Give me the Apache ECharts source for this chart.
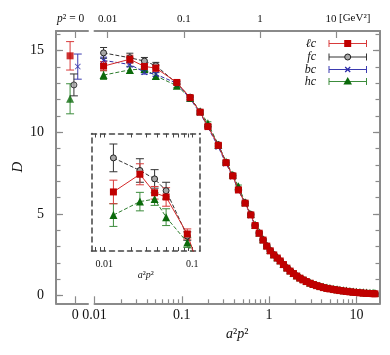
<!DOCTYPE html>
<html>
<head>
<meta charset="utf-8">
<script src="https://cdn.jsdelivr.net/npm/echarts@6/dist/echarts.min.js"></script>
<style>
  html, body { margin: 0; padding: 0; background: #fff; }
  #chart { width: 390px; height: 355px; }
</style>
</head>
<body>
<div id="chart"></div>
<script>
// a²p² of each lattice momentum
const momenta = [0.0127, 0.0254, 0.0373, 0.0504, 0.0877, 0.1245, 0.162, 0.199, 0.262, 0.321,
  0.384, 0.445, 0.531, 0.617, 0.691, 0.77, 0.853, 0.94, 1.03, 1.13,
  1.24, 1.34, 1.46, 1.6, 1.74, 1.9, 2.07, 2.25, 2.45, 2.67,
  2.94, 3.2, 3.5, 3.82, 4.2, 4.6, 4.97, 5.5, 6.0, 6.47,
  7.1, 7.7, 8.43, 9.2, 10.0, 10.97, 12.0, 13.1, 14.3, 15.5, 16.3];

// D for each ensemble
const dLc = [14.05, 14.47, 14.03, 13.93, 13.05, 12.12, 11.23, 10.35, 9.2, 8.14,
  7.33, 6.47, 5.66, 4.94, 4.29, 3.82, 3.4, 3.03, 2.74, 2.49,
  2.3, 2.12, 1.9, 1.68, 1.5, 1.35, 1.2, 1.07, 0.96, 0.86,
  0.76, 0.68, 0.61, 0.55, 0.49, 0.44, 0.41, 0.37, 0.34, 0.31,
  0.28, 0.26, 0.23, 0.21, 0.19, 0.17, 0.15, 0.14, 0.13, 0.12, 0.11];
const dFc = [14.86, 14.56, 14.36, 14.08, 13.0, 12.15, 11.25, 10.38, 9.24, 8.16,
  7.36, 6.5, 5.69, 4.97, 4.31, 3.84, 3.42, 3.05, 2.76, 2.51,
  2.31, 2.13, 1.91, 1.7, 1.52, 1.36, 1.21, 1.08, 0.97, 0.87,
  0.77, 0.69, 0.62, 0.56, 0.5, 0.45, 0.42, 0.38, 0.35, 0.32,
  0.29, 0.27, 0.24, 0.22, 0.2, 0.18, 0.16, 0.15, 0.14, 0.13, 0.12];
const dBc = [14.4, 14.15, 13.68, 13.55, 13.0, 12.05, 11.18, 10.3, 9.1, 8.08,
  7.28, 6.44, 5.62, 4.9, 4.26, 3.79, 3.37, 3.01, 2.72, 2.47,
  2.28, 2.1, 1.88, 1.66, 1.48, 1.33, 1.19, 1.06, 0.95, 0.85,
  0.75, 0.67, 0.6, 0.54, 0.48, 0.43, 0.4, 0.36, 0.33, 0.3,
  0.27, 0.25, 0.22, 0.2, 0.18, 0.16, 0.14, 0.13, 0.12, 0.11, 0.1];
const dHc = [13.5, 13.82, 13.88, 13.45, 12.85, 12.1, 11.28, 10.55, 9.24, 8.2,
  7.4, 6.7, 5.72, 5.0, 4.34, 3.87, 3.45, 3.08, 2.79, 2.54,
  2.35, 2.17, 1.95, 1.73, 1.55, 1.4, 1.25, 1.12, 1.01, 0.91,
  0.81, 0.73, 0.66, 0.6, 0.54, 0.49, 0.46, 0.42, 0.39, 0.36,
  0.33, 0.31, 0.28, 0.26, 0.24, 0.22, 0.2, 0.19, 0.18, 0.17, 0.16];

// statistical errors
const eLc = [0.28, 0.25, 0.15, 0.22, 0.12, 0.1, 0.09, 0.09, 0.08, 0.08,
  0.07, 0.07, 0.06, 0.06, 0.06, 0.05, 0.05, 0.05, 0.05, 0.05,
  0.05, 0.05, 0.05, 0.05, 0.05, 0.05, 0.05, 0.05, 0.05, 0.05,
  0.05, 0.05, 0.05, 0.05, 0.05, 0.05, 0.05, 0.05, 0.05, 0.05,
  0.05, 0.05, 0.05, 0.05, 0.05, 0.05, 0.05, 0.05, 0.05, 0.05, 0.05];
const eFc = [0.33, 0.28, 0.22, 0.2, 0.1, 0.1, 0.09, 0.09, 0.08, 0.08,
  0.07, 0.07, 0.06, 0.06, 0.06, 0.05, 0.05, 0.05, 0.05, 0.05,
  0.05, 0.05, 0.05, 0.05, 0.05, 0.05, 0.05, 0.05, 0.05, 0.05,
  0.05, 0.05, 0.05, 0.05, 0.05, 0.05, 0.05, 0.05, 0.05, 0.05,
  0.05, 0.05, 0.05, 0.05, 0.05, 0.05, 0.05, 0.05, 0.05, 0.05, 0.05];
const eBc = [0.2, 0.15, 0.12, 0.12, 0.08, 0.08, 0.07, 0.07, 0.07, 0.06,
  0.06, 0.06, 0.05, 0.05, 0.05, 0.04, 0.04, 0.04, 0.04, 0.04,
  0.04, 0.04, 0.04, 0.04, 0.04, 0.04, 0.04, 0.04, 0.04, 0.04,
  0.04, 0.04, 0.04, 0.04, 0.04, 0.04, 0.04, 0.04, 0.04, 0.04,
  0.04, 0.04, 0.04, 0.04, 0.04, 0.04, 0.04, 0.04, 0.04, 0.04, 0.04];
const eHc = [0.27, 0.22, 0.15, 0.2, 0.12, 0.1, 0.09, 0.09, 0.08, 0.08,
  0.07, 0.07, 0.06, 0.06, 0.06, 0.05, 0.05, 0.05, 0.05, 0.05,
  0.05, 0.05, 0.05, 0.05, 0.05, 0.05, 0.05, 0.05, 0.05, 0.05,
  0.05, 0.05, 0.05, 0.05, 0.05, 0.05, 0.05, 0.05, 0.05, 0.05,
  0.05, 0.05, 0.05, 0.05, 0.05, 0.05, 0.05, 0.05, 0.05, 0.05, 0.05];

// p² = 0 panel (order: ℓc, fc, bc, hc); offset = small horizontal shift in the panel
const names = ['ℓc', 'fc', 'bc', 'hc'];
const zeroOffset = [-0.4, -0.1, 0.2, -0.4];
const zeroD = [14.68, 12.9, 14.02, 12.05];
const zeroErr = [0.87, 0.67, 0.77, 0.92];

// ticks
const yMajor = [0, 5, 10, 15];
const yMinor = [0, 1, 2, 3, 4, 5, 6, 7, 8, 9, 10, 11, 12, 13, 14, 15, 16];
const xMajor = [0.01, 0.1, 1, 10];
const xMinor = [0.02, 0.03, 0.04, 0.05, 0.06, 0.07, 0.08, 0.09,
  0.2, 0.3, 0.4, 0.5, 0.6, 0.7, 0.8, 0.9, 2, 3, 4, 5, 6, 7, 8, 9];
const insetTicks = [0.008, 0.009, 0.01, 0.02, 0.03, 0.04, 0.05, 0.06, 0.07, 0.08, 0.09, 0.1];
const insetLabels = [0.01, 0.1];

const serif = "'Liberation Serif', 'DejaVu Serif', serif";
const gray = '#8a8a8a';
const xSym = 'path://M0,1L1,0L5,4L9,0L10,1L6,5L10,9L9,10L5,6L1,10L0,9L4,5Z';

// look of each ensemble
const looks = [
  { values: dLc, errs: eLc, bar: '#d83a3a', line: { color: '#d42a2a', type: 'solid' },
    symbol: 'rect', size: 7, item: { color: '#c00000' } },
  { values: dFc, errs: eFc, bar: '#333', line: { color: '#333', type: 'dashed' },
    symbol: 'circle', size: 6, item: { color: '#a8a8a8', borderColor: '#222', borderWidth: 1 } },
  { values: dBc, errs: eBc, bar: '#3b3bb0', line: { color: '#3030a8', type: 'dashed' },
    symbol: xSym, size: 6, item: { color: '#2a2aa8' } },
  { values: dHc, errs: eHc, bar: '#3c8c3c', line: { color: '#2e7d2e', type: 'dashed' },
    symbol: 'triangle', size: 8, item: { color: '#0b6a0b' } }
];

function errorBars(color, cap) {
  return function (params, api) {
    const x = api.value(0), y = api.value(1), e = api.value(2);
    const lo = api.coord([x, y - e]);
    const hi = api.coord([x, y + e]);
    const style = { stroke: color, lineWidth: 1 };
    return {
      type: 'group',
      children: [
        { type: 'line', shape: { x1: lo[0], y1: lo[1], x2: hi[0], y2: hi[1] }, style },
        { type: 'line', shape: { x1: lo[0] - cap, y1: lo[1], x2: lo[0] + cap, y2: lo[1] }, style },
        { type: 'line', shape: { x1: hi[0] - cap, y1: hi[1], x2: hi[0] + cap, y2: hi[1] }, style }
      ]
    };
  };
}

const labelStyle = { color: '#111', fontFamily: serif };
const tickStyle = { color: gray, width: 1.2 };

const series = [];
// draw order: hc, bc, fc, ℓc (ℓc on top)
[3, 2, 1, 0].forEach(i => {
  const lk = looks[i];
  // p² = 0 point
  series.push({
    type: 'custom', xAxisIndex: 0, yAxisIndex: 0, silent: true,
    renderItem: errorBars(lk.bar, 4),
    data: [[zeroOffset[i], zeroD[i], zeroErr[i]]]
  });
  series.push({
    type: 'scatter', xAxisIndex: 0, yAxisIndex: 0, silent: true,
    symbol: lk.symbol, symbolSize: lk.size, itemStyle: lk.item,
    data: [[zeroOffset[i], zeroD[i]]]
  });
  // main panel
  series.push({
    type: 'custom', xAxisIndex: 2, yAxisIndex: 2, silent: true, clip: true,
    renderItem: errorBars(lk.bar, 3.5),
    data: momenta.map((m, k) => [m, lk.values[k], lk.errs[k]])
  });
  series.push({
    type: 'line', xAxisIndex: 2, yAxisIndex: 2, silent: true,
    symbol: lk.symbol, symbolSize: lk.size, showAllSymbol: true,
    itemStyle: lk.item, lineStyle: { width: 1, color: lk.line.color, type: lk.line.type },
    data: momenta.map((m, k) => [m, lk.values[k]])
  });
  // inset (no bc there)
  if (i !== 2) {
    series.push({
      type: 'custom', xAxisIndex: 5, yAxisIndex: 4, silent: true, clip: true,
      renderItem: errorBars(lk.bar, 4),
      data: momenta.map((m, k) => [m, lk.values[k], lk.errs[k]])
    });
    series.push({
      type: 'line', xAxisIndex: 5, yAxisIndex: 4, silent: true, clip: true,
      symbol: lk.symbol, symbolSize: lk.size, showAllSymbol: true,
      itemStyle: lk.item, lineStyle: { width: 1, color: lk.line.color, type: lk.line.type },
      data: momenta.map((m, k) => [m, lk.values[k]])
    });
  }
});

// legend drawn by hand: label, error-bar line, marker
const legendY = [43.5, 57, 69.5, 81.5];
const legendItems = [];
looks.forEach((lk, i) => {
  const y = legendY[i];
  const st = { stroke: lk.bar, lineWidth: 1 };
  legendItems.push(
    { type: 'text', x: 316, y: y, style: { text: names[i], fill: '#111', font: 'italic 12px ' + serif,
      align: 'right', verticalAlign: 'middle', textAlign: 'right', textVerticalAlign: 'middle' } },
    { type: 'line', shape: { x1: 329, y1: y, x2: 366.5, y2: y }, style: st },
    { type: 'line', shape: { x1: 329, y1: y - 3.5, x2: 329, y2: y + 3.5 }, style: st },
    { type: 'line', shape: { x1: 366.5, y1: y - 3.5, x2: 366.5, y2: y + 3.5 }, style: st }
  );
  if (i === 0) legendItems.push({ type: 'rect', shape: { x: 344.2, y: y - 3.5, width: 7, height: 7 }, style: { fill: '#c00000' } });
  if (i === 1) legendItems.push({ type: 'circle', shape: { cx: 347.7, cy: y, r: 3 }, style: { fill: '#a8a8a8', stroke: '#222', lineWidth: 1 } });
  if (i === 2) legendItems.push(
    { type: 'line', shape: { x1: 345.2, y1: y - 2.5, x2: 350.2, y2: y + 2.5 }, style: { stroke: '#2a2aa8', lineWidth: 1.2 } },
    { type: 'line', shape: { x1: 345.2, y1: y + 2.5, x2: 350.2, y2: y - 2.5 }, style: { stroke: '#2a2aa8', lineWidth: 1.2 } });
  if (i === 3) legendItems.push({ type: 'polygon', shape: { points: [[347.7, y - 4.5], [352, y + 3], [343.4, y + 3]] }, style: { fill: '#0b6a0b' } });
});

const chart = echarts.init(document.getElementById('chart'));

const option = {
  animation: false,
  backgroundColor: '#fff',
  grid: [
    { left: 56, top: 31, width: 32, height: 272.3, containLabel: false, outerBoundsMode: 'none' },
    { left: 94.5, top: 31, width: 285.5, height: 272.3, containLabel: false, outerBoundsMode: 'none' },
    { left: 91.5, top: 133.5, width: 108.5, height: 117.5, containLabel: false, outerBoundsMode: 'none' }
  ],
  xAxis: [
    { // 0: p² = 0 panel, bottom
      gridIndex: 0, type: 'value', min: -1.5, max: 1, position: 'bottom',
      axisLine: { onZero: false, lineStyle: { color: gray, width: 2 } },
      axisTick: { inside: true, length: 7, customValues: [0], lineStyle: tickStyle },
      axisLabel: { customValues: [0], formatter: () => '0', margin: 5, fontSize: 14, ...labelStyle },
      splitLine: { show: false }
    },
    { // 1: p² = 0 panel, top
      gridIndex: 0, type: 'value', min: -1.5, max: 1, position: 'top',
      axisLine: { onZero: false, lineStyle: { color: gray, width: 2 } },
      axisTick: { inside: true, length: 7, customValues: [0], lineStyle: tickStyle },
      axisLabel: { customValues: [0], formatter: () => '{i|p}² = 0', margin: 6, fontSize: 11.5,
        padding: [0, 9, 0, 0], ...labelStyle,
        rich: { i: { fontStyle: 'italic', fontSize: 11.5, fontFamily: serif, color: '#111' } } },
      splitLine: { show: false }
    },
    { // 2: main, bottom
      gridIndex: 1, type: 'log', logBase: 10, min: 0.01, max: 18.62, position: 'bottom',
      axisLine: { onZero: false, lineStyle: { color: gray, width: 2 } },
      axisTick: { inside: true, length: 7, customValues: xMajor, lineStyle: tickStyle },
      axisLabel: { customValues: xMajor, formatter: v => String(v), margin: 5, fontSize: 14, ...labelStyle },
      splitLine: { show: false },
      name: '{i|a}²{i|p}²', nameLocation: 'middle', nameGap: 23,
      nameTextStyle: { fontSize: 14, fontFamily: serif, color: '#111',
        rich: { i: { fontStyle: 'italic', fontSize: 14, fontFamily: serif, color: '#111' } } }
    },
    { // 3: main, bottom minor ticks
      gridIndex: 1, type: 'log', logBase: 10, min: 0.01, max: 18.62, position: 'bottom',
      axisLine: { show: false, onZero: false },
      axisTick: { inside: true, length: 4, customValues: xMinor, lineStyle: tickStyle },
      axisLabel: { show: false }, splitLine: { show: false }
    },
    { // 4: main, top (GeV²)
      gridIndex: 1, type: 'log', logBase: 10, min: 0.006706, max: 37.8, position: 'top',
      axisLine: { onZero: false, lineStyle: { color: gray, width: 2 } },
      axisTick: { inside: true, length: 7, customValues: xMajor, lineStyle: tickStyle },
      axisLabel: { customValues: xMajor, formatter: v => (v === 10 ? '{t|10}' : String(v)),
        margin: 6, fontSize: 11, ...labelStyle,
        rich: { t: { fontSize: 11, fontFamily: serif, color: '#111', padding: [0, 10, 0, 0] } } },
      splitLine: { show: false }
    },
    { // 5: inset, bottom
      gridIndex: 2, type: 'log', logBase: 10, min: 0.00716, max: 0.1223, position: 'bottom',
      axisLine: { onZero: false, lineStyle: { color: '#444', width: 1.5, type: [5, 4] } },
      axisTick: { inside: true, length: 4, customValues: insetTicks, lineStyle: { color: '#444', width: 1 } },
      axisLabel: { customValues: insetLabels, formatter: v => String(v), margin: 8, fontSize: 10, ...labelStyle },
      splitLine: { show: false },
      name: '{i|a}²{i|p}²', nameLocation: 'middle', nameGap: 8,
      nameTextStyle: { fontSize: 10, fontFamily: serif, color: '#111',
        rich: { i: { fontStyle: 'italic', fontSize: 10, fontFamily: serif, color: '#111' } } }
    },
    { // 6: inset, top
      gridIndex: 2, type: 'log', logBase: 10, min: 0.00716, max: 0.1223, position: 'top',
      axisLine: { onZero: false, lineStyle: { color: '#444', width: 1.5, type: [5, 4] } },
      axisTick: { inside: true, length: 4, customValues: insetTicks, lineStyle: { color: '#444', width: 1 } },
      axisLabel: { show: false }, splitLine: { show: false }
    }
  ],
  yAxis: [
    { // 0: left
      gridIndex: 0, type: 'value', min: -0.47, max: 16.2, position: 'left',
      axisLine: { onZero: false, lineStyle: { color: gray, width: 2 } },
      axisTick: { inside: true, length: 7, customValues: yMajor, lineStyle: tickStyle },
      axisLabel: { customValues: yMajor, formatter: v => String(v), margin: 12, fontSize: 14, ...labelStyle },
      splitLine: { show: false },
      name: 'D', nameLocation: 'middle', nameRotate: 90, nameGap: 30,
      nameTextStyle: { fontSize: 15, fontStyle: 'italic', fontFamily: serif, color: '#111' }
    },
    { // 1: left minor ticks
      gridIndex: 0, type: 'value', min: -0.47, max: 16.2, position: 'left',
      axisLine: { show: false, onZero: false },
      axisTick: { inside: true, length: 4.5, customValues: yMinor, lineStyle: tickStyle },
      axisLabel: { show: false }, splitLine: { show: false }
    },
    { // 2: right
      gridIndex: 1, type: 'value', min: -0.47, max: 16.2, position: 'right',
      axisLine: { onZero: false, lineStyle: { color: gray, width: 2 } },
      axisTick: { inside: true, length: 7, customValues: yMajor, lineStyle: tickStyle },
      axisLabel: { show: false }, splitLine: { show: false }
    },
    { // 3: right minor ticks
      gridIndex: 1, type: 'value', min: -0.47, max: 16.2, position: 'right',
      axisLine: { show: false, onZero: false },
      axisTick: { inside: true, length: 4.5, customValues: yMinor, lineStyle: tickStyle },
      axisLabel: { show: false }, splitLine: { show: false }
    },
    { // 4: inset left
      gridIndex: 2, type: 'value', min: 12.645, max: 15.44, position: 'left',
      axisLine: { onZero: false, lineStyle: { color: '#444', width: 1.5, type: [5, 4] } },
      axisTick: { show: false }, axisLabel: { show: false }, splitLine: { show: false }
    },
    { // 5: inset right
      gridIndex: 2, type: 'value', min: 12.645, max: 15.44, position: 'right',
      axisLine: { onZero: false, lineStyle: { color: '#444', width: 1.5, type: [5, 4] } },
      axisTick: { show: false }, axisLabel: { show: false }, splitLine: { show: false }
    }
  ],
  graphic: [
    { type: 'text', x: 339, y: 18, style: { text: '[GeV²]', fill: '#111', font: '11px ' + serif,
      align: 'left', verticalAlign: 'middle', textAlign: 'left', textVerticalAlign: 'middle' } },
    ...legendItems
  ],
  series: series
};

chart.setOption(option);
</script>
</body>
</html>
